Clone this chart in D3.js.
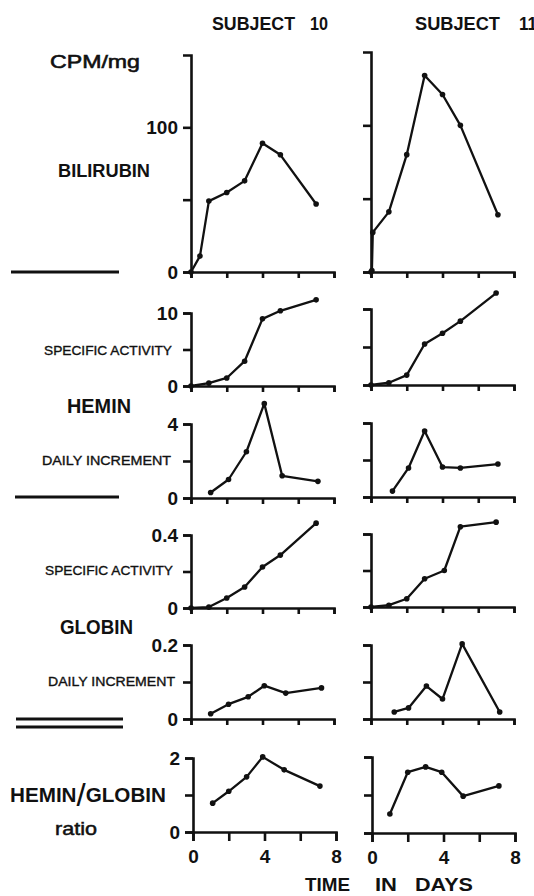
<!DOCTYPE html>
<html>
<head>
<meta charset="utf-8">
<script src="https://cdn.jsdelivr.net/npm/d3@7"></script>
<style>
  body { margin: 0; background: #fff; }
  svg { display: block; }
  text { font-family: "Liberation Sans", Arial, sans-serif; fill: #111; }
</style>
</head>
<body>
<svg id="chart"></svg>
<script>
// values (days, value)
const biliDays10 = [0, 0.5, 1, 2, 3, 4, 5, 7];
const biliVals10 = [0, 11, 49, 55, 63, 89, 81, 47];
const biliDays11 = [0, 0.05, 0.1, 1, 2, 3, 4, 5, 7.1];
const biliVals11 = [0, 1, 27, 41, 80, 134, 121, 100, 39];

const heminSaDays10 = [0, 1, 2, 3, 4, 5, 7];
const heminSaVals10 = [0, 0.4, 1.1, 3.4, 9.2, 10.3, 11.8];
const heminSaDays11 = [0, 1, 2, 3, 4, 5, 7];
const heminSaVals11 = [0, 0.3, 1.3, 5.4, 6.8, 8.4, 12.1];

const heminDiDays10 = [1.1, 2.1, 3.1, 4.1, 5.1, 7.1];
const heminDiVals10 = [0.3, 1.0, 2.5, 5.1, 1.2, 0.9];
const heminDiDays11 = [1.2, 2.1, 3, 4, 5, 7.1];
const heminDiVals11 = [0.32, 1.57, 3.57, 1.62, 1.57, 1.78];

const globinSaDays10 = [0, 1, 2, 3, 4, 5, 7];
const globinSaVals10 = [0, 0.005, 0.055, 0.115, 0.225, 0.29, 0.465];
const globinSaDays11 = [0, 1, 2, 3, 4.1, 5, 7];
const globinSaVals11 = [0, 0.01, 0.045, 0.155, 0.2, 0.44, 0.465];

const globinDiDays10 = [1.1, 2.1, 3.2, 4.1, 5.3, 7.3];
const globinDiVals10 = [0.014, 0.04, 0.06, 0.09, 0.07, 0.084];
const globinDiDays11 = [1.3, 2.1, 3.1, 4, 5.1, 7.2];
const globinDiVals11 = [0.019, 0.03, 0.089, 0.054, 0.203, 0.019];

const ratioDays10 = [1.1, 2, 3, 3.9, 5.1, 7.1];
const ratioVals10 = [0.78, 1.1, 1.49, 2.03, 1.68, 1.24];
const ratioDays11 = [1, 2, 3, 3.9, 5.1, 7.1];
const ratioVals11 = [0.5, 1.6, 1.74, 1.6, 0.97, 1.24];

const xTicks = [0, 2, 4, 6, 8];
const xTickLabels = ["0", "4", "8"];

const svg = d3.select("#chart").attr("width", 534).attr("height", 896);

const ink = "#111";

// row layout: y domain top, ticks, which tick gets a label, pixel ranges
const rows = [
  { max: 150, ticks: [0, 50, 100], labels: {0: "0", 100: "100"}, yL: [272, 55], yR: [272, 52],
    s10: [biliDays10, biliVals10], s11: [biliDays11, biliVals11] },
  { max: 10, ticks: [0, 5, 10], labels: {0: "0", 10: "10"}, yL: [386, 313], yR: [385, 309],
    s10: [heminSaDays10, heminSaVals10], s11: [heminSaDays11, heminSaVals11] },
  { max: 4, ticks: [0, 2, 4], labels: {0: "0", 4: "4"}, yL: [498, 424], yR: [497, 423],
    s10: [heminDiDays10, heminDiVals10], s11: [heminDiDays11, heminDiVals11] },
  { max: 0.4, ticks: [0, 0.2, 0.4], labels: {0: "0", 0.4: "0.4"}, yL: [608, 535], yR: [607, 534],
    s10: [globinSaDays10, globinSaVals10], s11: [globinSaDays11, globinSaVals11] },
  { max: 0.2, ticks: [0, 0.1, 0.2], labels: {0: "0", 0.2: "0.2"}, yL: [719, 645], yR: [719, 645],
    s10: [globinDiDays10, globinDiVals10], s11: [globinDiDays11, globinDiVals11] },
  { max: 2, ticks: [0, 1, 2], labels: {0: "0", 2: "2"}, yL: [832, 758], yR: [833, 757],
    s10: [ratioDays10, ratioVals10], s11: [ratioDays11, ratioVals11] }
];

function drawPanel(xRange, yRange, row, series, withLabels, bottom) {
  const x = d3.scaleLinear().domain([0, 8]).range(xRange);
  const y = d3.scaleLinear().domain([0, row.max]).range(yRange);
  const g = svg.append("g");

  const yAxis = d3.axisLeft(y)
      .tickValues(row.ticks)
      .tickSizeInner(8).tickSizeOuter(8).tickPadding(5)
      .tickFormat(d => withLabels && row.labels[d] !== undefined ? row.labels[d] : "");
  const ya = g.append("g").attr("transform", `translate(${xRange[0]},0)`).call(yAxis);

  const xAxis = d3.axisBottom(x)
      .tickValues(xTicks)
      .tickSizeInner(bottom ? 9 : 6).tickSizeOuter(bottom ? 9 : 6).tickPadding(9)
      .tickFormat(d => bottom && d % 4 === 0 ? xTickLabels[d / 4] : "");
  const xa = g.append("g").attr("transform", `translate(0,${yRange[0]})`).call(xAxis);

  [ya, xa].forEach(a => {
    a.attr("font-family", null).attr("font-size", null);
    a.selectAll("path, line").attr("stroke", ink).attr("stroke-width", 2.6);
    a.selectAll("text").attr("fill", ink)
      .style("font-size", "19px").style("font-weight", "bold");
  });

  const line = d3.line().x((d, i) => x(series[0][i])).y(d => y(d));
  g.append("path")
    .datum(series[1])
    .attr("d", line)
    .attr("fill", "none")
    .attr("stroke", ink)
    .attr("stroke-width", 2.3)
    .attr("stroke-linejoin", "round");

  g.selectAll("circle")
    .data(series[1])
    .join("circle")
    .attr("cx", (d, i) => x(series[0][i]))
    .attr("cy", d => y(d))
    .attr("r", 2.8)
    .attr("fill", ink);
}

rows.forEach((row, i) => {
  const bottom = i === rows.length - 1;
  const xl = bottom ? [193, 336] : [191, 334];
  const xr = bottom ? [372, 515] : [371, 514];
  drawPanel(xl, row.yL, row, row.s10, true, bottom);
  drawPanel(xr, row.yR, row, row.s11, false, bottom);
});

// labels
function label(txt, x, y, size, weight, len, thick) {
  const t = svg.append("text")
    .attr("x", x).attr("y", y)
    .attr("dominant-baseline", "central")
    .style("font-size", size + "px")
    .style("font-weight", weight)
    .text(txt);
  if (len) t.attr("textLength", len).attr("lengthAdjust", "spacingAndGlyphs");
  if (thick) t.attr("stroke", ink).attr("stroke-width", thick);
  return t;
}

label("SUBJECT", 212, 23, 19, "bold", 83);
label("10", 310, 23, 19, "bold", 18);
label("SUBJECT", 415, 23, 19, "bold", 85);
label("11", 519, 23, 19, "bold", 18);

label("CPM/mg", 50, 61, 19, "normal", 90, 0.6);
label("BILIRUBIN", 58, 170, 19, "bold", 92);
label("SPECIFIC ACTIVITY", 44, 351, 12.5, "normal", 128, 0.35);
label("HEMIN", 67, 406, 20, "bold", 64);
label("DAILY INCREMENT", 42, 461, 12.5, "normal", 129, 0.35);
label("SPECIFIC ACTIVITY", 45, 571, 12.5, "normal", 128, 0.35);
label("GLOBIN", 60, 627, 20, "bold", 73);
label("DAILY INCREMENT", 48, 682, 12.5, "normal", 127, 0.35);

const hg = label("", 10, 795, 20, "bold", null);
hg.append("tspan").text("HEMIN");
hg.append("tspan").style("font-size", "32px").style("font-weight", "normal").text("/");
hg.append("tspan").text("GLOBIN");
hg.attr("textLength", 156).attr("lengthAdjust", "spacingAndGlyphs");

label("ratio", 55, 829, 18, "normal", 42, 0.5);

label("TIME", 305, 885, 18, "bold", 45);
label("IN", 375, 885, 18, "bold", 22);
label("DAYS", 415, 885, 18, "bold", 58);

// separator rules at left
const rules = [[11, 119, 272], [15, 119, 497], [16, 123, 719], [16, 123, 727]];
svg.selectAll("line.rule")
  .data(rules)
  .join("line")
  .attr("class", "rule")
  .attr("x1", d => d[0]).attr("x2", d => d[1])
  .attr("y1", d => d[2]).attr("y2", d => d[2])
  .attr("stroke", ink)
  .attr("stroke-width", 2.8);
</script>
</body>
</html>
